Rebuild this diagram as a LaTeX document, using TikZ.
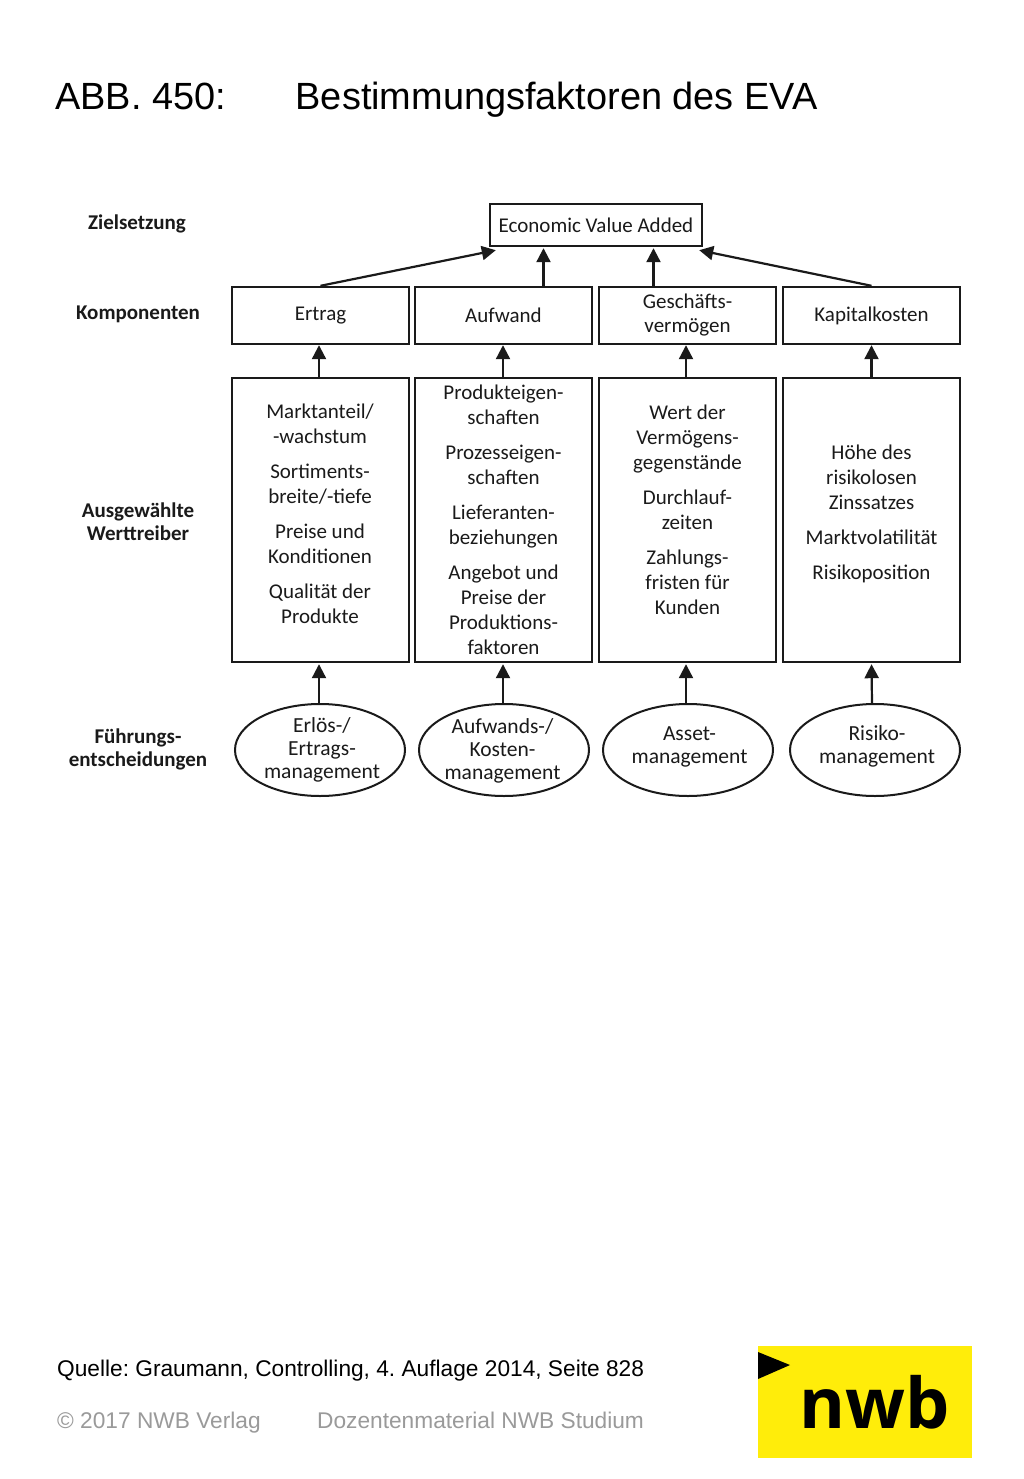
\documentclass[tikz,border=0pt]{standalone}
\usepackage{fontspec}
\setmainfont{Liberation Sans}
\newfontfamily\diag{Carlito}
\newfontfamily\logofont{Open Sans}
\usetikzlibrary{arrows.meta,shapes.geometric}
\definecolor{nwbyellow}{HTML}{FFED0A}
\definecolor{fineprint}{HTML}{9A9A9A}
\definecolor{ink}{HTML}{1A1A1A}
\tikzset{
  box/.style={draw=ink,line width=2.4pt,minimum width=177pt,inner sep=0pt},
  comp/.style={box,minimum height=57pt},
  driver/.style={box,minimum height=284pt},
  decision/.style={ellipse,draw=ink,line width=2pt,minimum width=170pt,minimum height=92pt,inner sep=0pt},
  body/.style={font=\diag\fontsize{21}{24}\selectfont,align=center,text=ink,inner sep=0pt},
  driverbody/.style={font=\diag\fontsize{21}{25}\selectfont,align=center,text=ink,inner sep=0pt},
  ovalbody/.style={font=\diag\fontsize{21.5}{23}\selectfont,align=center,text=ink,inner sep=0pt},
  rowlabel/.style={font=\diag\bfseries\fontsize{21}{23}\selectfont,align=center,text=ink,inner sep=0pt},
  arrow/.style={draw=ink,line width=2.2pt,-{Triangle[length=14pt,width=14pt]}},
  title/.style={font=\fontsize{37.9}{38}\selectfont,anchor=base west,inner sep=0pt},
  foot/.style={font=\fontsize{22.7}{24}\selectfont\frenchspacing,anchor=base west,inner sep=0pt}
}
\begin{document}
\begin{tikzpicture}[x=1pt,y=-1pt]
\useasboundingbox (0,0) rectangle (1024,1479);
\fill[white] (0,0) rectangle (1024,1479);
\node[title] (t1) at (55,110) {ABB. 450:};
\node[title] (t2) at (295.5,110) {Bestimmungsfaktoren des EVA};
% row labels
\node[rowlabel] (l1) at (137,224) {Zielsetzung};
\node[rowlabel] (l2) at (138,314) {Komponenten};
\node[rowlabel] (l3) at (138,522) {Ausgewählte\\Werttreiber};
\node[rowlabel] (l4) at (138,749) {Führungs-\\entscheidungen};
% top
\node[box,minimum width=212pt,minimum height=42pt,body] (eva) at (596,225) {Economic Value Added};
% components
\node[comp,body] (c1) at (320.5,315.5) {Ertrag};
\node[comp,body] (c2) at (503.5,315.5) {Aufwand};
\node[comp,body] (c3) at (687.5,315.5) {Geschäfts-\\vermögen};
\node[comp,body] (c4) at (871.5,315.5) {Kapitalkosten};
% drivers
\node[driver] (d1) at (320.5,520) {};
\node[driver] (d2) at (503.5,520) {};
\node[driver] (d3) at (687.5,520) {};
\node[driver] (d4) at (871.5,520) {};
\node[driverbody] (d1t) at (320,513.5) {Marktanteil/\\-wachstum\\[10pt]Sortiments-\\breite/-tiefe\\[10pt]Preise und\\Konditionen\\[10pt]Qualität der\\Produkte};
\node[driverbody] (d2t) at (503.5,520) {Produkteigen-\\schaften\\[10pt]Prozesseigen-\\schaften\\[10pt]Lieferanten-\\beziehungen\\[10pt]Angebot und\\Preise der\\Produktions-\\faktoren};
\node[driverbody] (d3t) at (687.5,510) {Wert der\\Vermögens-\\gegenstände\\[10pt]Durchlauf-\\zeiten\\[10pt]Zahlungs-\\fristen für\\Kunden};
\node[driverbody] (d4t) at (871.5,514) {Höhe des\\risikolosen\\Zinssatzes\\[10pt]Marktvolatilität\\[10pt]Risikoposition};
% decisions
\node[decision] (e1) at (320,750) {};
\node[decision] (e2) at (504,750) {};
\node[decision] (e3) at (688,750) {};
\node[decision] (e4) at (875,750) {};
\node[ovalbody] (e1t) at (322,749.5) {Erlös-/\\Ertrags-\\management};
\node[ovalbody] (e2t) at (502.5,750.5) {Aufwands-/\\Kosten-\\management};
\node[ovalbody] (e3t) at (689.5,747) {Asset-\\management};
\node[ovalbody] (e4t) at (877,746.5) {Risiko-\\management};
% connectors
\draw[arrow] (c1.north) -- ([xshift=7pt,yshift=-3pt]eva.south west);
\draw[arrow] ([xshift=40pt]c2.north) -- ([xshift=40pt,yshift=-1pt]c2.north |- eva.south);
\draw[arrow] ([xshift=-34pt]c3.north) -- ([xshift=-34pt,yshift=-1pt]c3.north |- eva.south);
\draw[arrow] (c4.north) -- ([xshift=-4pt,yshift=-3pt]eva.south east);
\draw[arrow] ([xshift=-1.5pt]d1.north) -- ([xshift=-1.5pt]c1.south);
\draw[arrow] ([xshift=-0.5pt]d2.north) -- ([xshift=-0.5pt]c2.south);
\draw[arrow] ([xshift=-1.5pt]d3.north) -- ([xshift=-1.5pt]c3.south);
\draw[arrow] (d4.north) -- (c4.south);
\draw[arrow] ([xshift=-1pt]e1.north) -- ([xshift=-1.5pt,yshift=-1pt]d1.south);
\draw[arrow] ([xshift=-1pt]e2.north) -- ([xshift=-0.5pt,yshift=-1pt]d2.south);
\draw[arrow] ([xshift=-2pt]e3.north) -- ([xshift=-1.5pt,yshift=-1pt]d3.south);
\draw[arrow] ([xshift=-3pt]e4.north) -- ([yshift=-1pt]d4.south);
% footer
\node[foot] (q) at (57,1376) {Quelle: Graumann, Controlling, 4. Auflage 2014, Seite 828};
\node[foot,text=fineprint] (f1) at (57,1428) {© 2017 NWB Verlag};
\node[foot,text=fineprint] (f2) at (317,1428) {Dozentenmaterial NWB Studium};
% logo
\fill[nwbyellow] (758,1346) rectangle (972,1458);
\fill[black] (758,1352) -- (790,1365) -- (758,1379) -- cycle;
\node[font=\logofont\bfseries\fontsize{70}{70}\selectfont,anchor=base,inner sep=0pt] (nwb) at (875,1428) {nwb};
\end{tikzpicture}
\end{document}
